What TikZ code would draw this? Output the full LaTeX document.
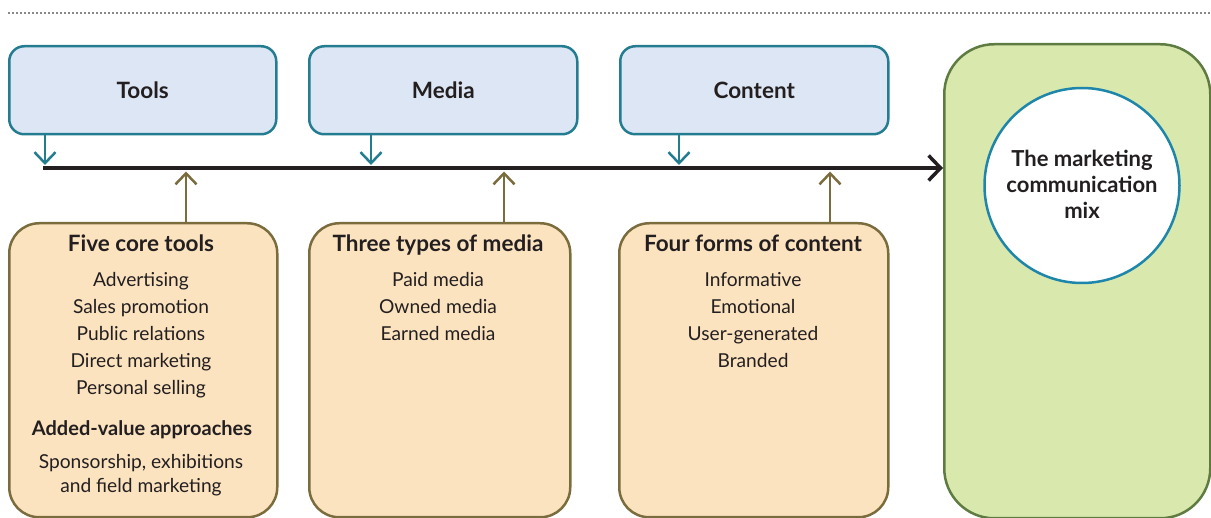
\documentclass[tikz,border=0pt]{standalone}
\usepackage{fontspec}
\setmainfont{Lato}
\usetikzlibrary{arrows.meta}

\definecolor{ink}{HTML}{231F20}
\definecolor{topfill}{HTML}{DDE6F4}
\definecolor{topline}{HTML}{237C90}
\definecolor{botfill}{HTML}{FCE3BF}
\definecolor{botline}{HTML}{7B6C3E}
\definecolor{mixfill}{HTML}{D9E8AD}
\definecolor{mixline}{HTML}{5E7B42}
\definecolor{ringline}{HTML}{1D86AA}
\definecolor{rulegray}{HTML}{8A8A8A}

\tikzset{
  topbox/.style={draw=topline, line width=2.5pt, fill=topfill, rounded corners=15pt,
    anchor=north west, inner sep=0pt, minimum height=88pt, text=ink,
    font=\bfseries\fontsize{22.5}{26}\selectfont},
  botbox/.style={draw=botline, line width=2.5pt, fill=botfill, rounded corners=30pt,
    anchor=north west, inner sep=0pt, minimum height=294pt},
  head/.style={anchor=base, inner sep=0pt, text=ink, font=\bfseries\fontsize{22.5}{26}\selectfont},
  entry/.style={anchor=base, inner sep=0pt, text=ink, font=\fontsize{19.2}{23}\selectfont},
  ringtext/.style={anchor=base, inner sep=0pt, text=ink, font=\bfseries\fontsize{22}{26}\selectfont},
  downarrow/.style={draw=topline, line width=2.5pt, -{Straight Barb[length=11pt,width=21pt]}},
  uparrow/.style={draw=botline, line width=2.5pt, -{Straight Barb[length=11pt,width=21pt]}},
  mainline/.style={draw=ink, line width=4.5pt, -{Straight Barb[length=12pt,width=25pt,line width=3.5pt]}},
}

\begin{document}
\begin{tikzpicture}[x=1pt, y=-1pt]
\useasboundingbox (0,0) rectangle (1211,518);

% dotted rule along the top
\coordinate (rulea) at (8,13);
\coordinate (ruleb) at (1211,13);
\draw[rulegray, line width=1.6pt, dash pattern=on 1.6pt off 2.4pt] (rulea) -- (ruleb);

% upper boxes
\node[topbox, minimum width=267pt] (tools) at (8,45) {Tools};
\node[topbox, minimum width=268pt] (media) at (308,45) {Media};
\node[topbox, minimum width=268pt] (content) at (619,45) {Content};

% lower boxes
\node[botbox, minimum width=268pt] (fivetools) at (8,222) {};
\node[botbox, minimum width=261pt] (threemedia) at (308,222) {};
\node[botbox, minimum width=269pt] (fourforms) at (618,222) {};

% right-hand panel and circle
\node[draw=mixline, line width=2.5pt, fill=mixfill, rounded corners=50pt, anchor=north west,
      inner sep=0pt, minimum width=266pt, minimum height=474pt] (mixbox) at (943,43) {};
\node[circle, draw=ringline, line width=2.5pt, fill=white, inner sep=0pt,
      minimum size=195pt] (ring) at (1082,185.5) {};
\node[ringtext] (ringa) at (1082,167) {The marketing};
\node[ringtext] (ringb) at (1082,193) {communication};
\node[ringtext] (ringc) at (1082,218.5) {mix};

% main flow line
\coordinate (lstart) at (43,168);
\draw[mainline] (lstart) -- (mixbox.west |- lstart);

% points on the main line
\coordinate (d1) at (45,165);
\coordinate (d2) at (371,165);
\coordinate (d3) at (679,165);
\coordinate (u1) at (186,171.5);
\coordinate (u2) at (504,171.5);
\coordinate (u3) at (830,171.5);

\draw[downarrow] (tools.south -| d1) -- (d1);
\draw[downarrow] (media.south -| d2) -- (d2);
\draw[downarrow] (content.south -| d3) -- (d3);
\draw[uparrow] (fivetools.north -| u1) -- (u1);
\draw[uparrow] (threemedia.north -| u2) -- (u2);
\draw[uparrow] (fourforms.north -| u3) -- (u3);

% text of the first lower box
\node[head]  (t1) at (141,252) {Five core tools};
\node[entry] (t2) at (141,287) {Advertising};
\node[entry] (t3) at (141,314) {Sales promotion};
\node[entry] (t4) at (141,341) {Public relations};
\node[entry] (t5) at (141,368) {Direct marketing};
\node[entry] (t6) at (141,395) {Personal selling};
\node[head, font=\bfseries\fontsize{20}{24}\selectfont] (t7) at (142,436) {Added-value approaches};
\node[entry] (t8) at (141,469) {Sponsorship, exhibitions};
\node[entry] (t9) at (141,492.5) {and field marketing};

% text of the second lower box
\node[head]  (m1) at (438,252) {Three types of media};
\node[entry] (m2) at (438,287) {Paid media};
\node[entry] (m3) at (438,314) {Owned media};
\node[entry] (m4) at (438,341) {Earned media};

% text of the third lower box
\node[head]  (c1) at (753,252) {Four forms of content};
\node[entry] (c2) at (753,287) {Informative};
\node[entry] (c3) at (753,314) {Emotional};
\node[entry] (c4) at (753,341) {User-generated};
\node[entry] (c5) at (753,368) {Branded};
\end{tikzpicture}
\end{document}
